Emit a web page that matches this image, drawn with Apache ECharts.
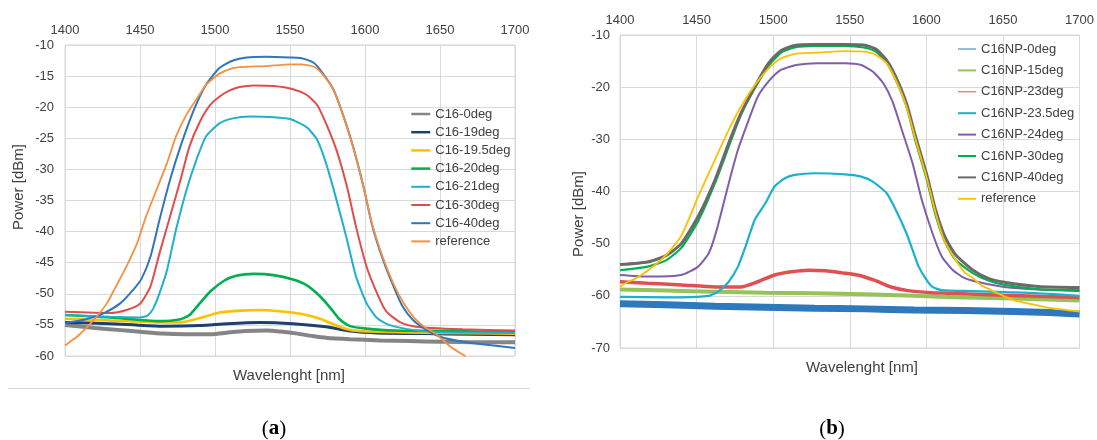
<!DOCTYPE html>
<html>
<head>
<meta charset="utf-8">
<script src="https://cdn.jsdelivr.net/npm/echarts@6/dist/echarts.min.js"></script>
<style>html,body{margin:0;padding:0;background:#fff}#c{width:1097px;height:440px}</style>
</head>
<body>
<div id="c"></div>
<script>
// ---------- axis ticks ----------
const xTicks = [1400, 1450, 1500, 1550, 1600, 1650, 1700];
const yTicksA = [-60, -55, -50, -45, -40, -35, -30, -25, -20, -15, -10];
const yTicksB = [-70, -60, -50, -40, -30, -20, -10];

// ---------- panel (a) : [wavelength nm, power dBm] ----------
const a_0deg = [[1400,-55.0],[1420,-55.5],[1435,-55.8],[1450,-56.1],[1465,-56.4],[1480,-56.5],[1497,-56.5],[1510,-56.2],[1520,-56.0],[1534,-55.9],[1545,-56.1],[1555,-56.4],[1565,-56.8],[1575,-57.1],[1590,-57.3],[1610,-57.5],[1630,-57.6],[1650,-57.7],[1675,-57.8],[1700,-57.8]];
const a_19deg = [[1400,-54.6],[1430,-54.8],[1463,-55.2],[1490,-55.1],[1508,-54.8],[1530,-54.6],[1552,-54.8],[1574,-55.3],[1590,-56.0],[1608,-56.3],[1640,-56.4],[1670,-56.5],[1700,-56.6]];
const a_19_5deg = [[1400,-54.0],[1430,-54.3],[1463,-54.6],[1477,-54.6],[1490,-53.9],[1503,-53.0],[1517,-52.7],[1530,-52.6],[1543,-52.8],[1557,-53.2],[1570,-54.0],[1583,-55.3],[1592,-55.9],[1608,-56.1],[1650,-56.3],[1700,-56.4]];
const a_20deg = [[1400,-53.4],[1430,-53.8],[1463,-54.4],[1477,-54.1],[1483,-53.4],[1490,-51.5],[1497,-49.6],[1506,-47.9],[1514,-47.1],[1526,-46.8],[1539,-47.0],[1552,-47.7],[1561,-48.6],[1570,-50.4],[1577,-52.3],[1583,-54.1],[1590,-55.2],[1601,-55.6],[1619,-55.9],[1663,-56.0],[1700,-56.2]];
const a_21deg = [[1400,-53.4],[1430,-53.7],[1450,-53.8],[1455,-53.5],[1459,-52.3],[1463,-49.9],[1468,-46.2],[1474,-39.7],[1481,-33.3],[1488,-28.2],[1494,-24.7],[1503,-22.6],[1512,-21.8],[1523,-21.5],[1539,-21.6],[1550,-21.9],[1561,-23.2],[1568,-25.2],[1574,-29.0],[1581,-34.9],[1588,-41.3],[1594,-47.2],[1601,-51.5],[1608,-53.9],[1616,-55.0],[1632,-55.8],[1654,-56.2],[1700,-56.3]];
const a_30deg = [[1400,-52.9],[1430,-53.1],[1441,-52.6],[1450,-51.6],[1457,-48.8],[1463,-43.5],[1470,-37.6],[1477,-31.7],[1483,-26.3],[1490,-22.3],[1497,-19.6],[1506,-17.8],[1514,-16.9],[1526,-16.5],[1539,-16.6],[1552,-17.1],[1561,-18.0],[1568,-19.6],[1574,-22.6],[1581,-26.9],[1588,-32.8],[1594,-39.2],[1601,-45.6],[1608,-49.9],[1614,-52.8],[1623,-54.5],[1632,-55.2],[1645,-55.5],[1665,-55.7],[1700,-55.9]];
const a_40deg = [[1400,-54.7],[1414,-54.1],[1426,-53.1],[1437,-51.5],[1446,-49.2],[1451,-47.6],[1457,-44.0],[1463,-38.1],[1470,-31.7],[1477,-26.3],[1486,-20.4],[1494,-16.4],[1503,-13.7],[1512,-12.5],[1521,-12.0],[1534,-11.9],[1550,-12.0],[1557,-12.1],[1566,-12.9],[1572,-14.6],[1579,-17.2],[1585,-21.0],[1592,-26.3],[1599,-32.8],[1605,-39.2],[1612,-44.5],[1619,-48.8],[1625,-52.0],[1632,-54.2],[1641,-55.8],[1650,-56.9],[1665,-57.7],[1681,-58.2],[1700,-58.7]];
const a_reference = [[1400,-58.3],[1404,-57.6],[1408,-56.9],[1414,-55.5],[1421,-53.7],[1428,-51.5],[1434,-48.8],[1441,-45.6],[1448,-41.9],[1454,-37.6],[1461,-33.3],[1468,-29.0],[1474,-24.7],[1481,-21.2],[1488,-18.6],[1494,-16.4],[1503,-14.6],[1512,-13.7],[1521,-13.5],[1534,-13.4],[1550,-13.1],[1557,-13.1],[1566,-13.5],[1572,-14.8],[1579,-17.2],[1585,-21.0],[1592,-26.3],[1599,-32.8],[1605,-39.0],[1612,-44.2],[1619,-48.4],[1626,-51.6],[1633,-53.9],[1640,-55.4],[1647,-56.4],[1656,-58.3],[1662,-59.3],[1667,-60.0]];

// ---------- panel (b) ----------
const b_0deg = [[1400,-61.5],[1430,-61.7],[1462,-62.0],[1495,-62.2],[1527,-62.4],[1560,-62.5],[1592,-62.7],[1625,-62.8],[1657,-63.0],[1680,-63.2],[1700,-63.5]];
const b_15deg = [[1400,-58.8],[1430,-59.0],[1462,-59.2],[1495,-59.4],[1527,-59.5],[1560,-59.7],[1592,-60.0],[1625,-60.3],[1658,-60.5],[1690,-60.8],[1700,-60.9]];
const b_23deg = [[1400,-57.3],[1418,-57.6],[1440,-57.9],[1462,-58.3],[1479,-58.3],[1490,-57.3],[1501,-56.0],[1512,-55.4],[1523,-55.1],[1534,-55.2],[1545,-55.6],[1555,-56.0],[1566,-57.0],[1577,-58.3],[1588,-59.0],[1603,-59.4],[1614,-59.5],[1650,-59.9],[1700,-60.3]];
const b_23_5deg = [[1400,-60.2],[1430,-60.3],[1458,-60.0],[1464,-59.2],[1471,-57.3],[1477,-54.4],[1482,-50.5],[1488,-45.4],[1495,-42.2],[1501,-39.0],[1508,-37.4],[1514,-36.8],[1527,-36.5],[1547,-36.7],[1557,-37.1],[1565,-38.1],[1574,-40.3],[1580,-43.5],[1587,-48.0],[1591,-51.2],[1595,-54.4],[1600,-56.9],[1604,-58.3],[1610,-58.9],[1630,-59.1],[1651,-59.3],[1673,-59.5],[1700,-60.0]];
const b_24deg = [[1400,-56.0],[1418,-56.3],[1440,-56.0],[1451,-54.4],[1458,-51.8],[1463,-47.5],[1471,-38.4],[1477,-32.0],[1484,-26.3],[1490,-21.8],[1497,-18.9],[1505,-16.7],[1516,-15.7],[1529,-15.4],[1547,-15.4],[1557,-15.7],[1565,-17.0],[1572,-19.3],[1578,-22.8],[1584,-28.2],[1591,-34.6],[1597,-41.6],[1604,-48.0],[1610,-52.4],[1617,-55.0],[1625,-56.6],[1636,-57.5],[1651,-58.3],[1673,-58.8],[1700,-59.1]];
const b_30deg = [[1400,-55.1],[1418,-54.4],[1430,-53.2],[1440,-50.8],[1451,-45.7],[1462,-38.4],[1471,-31.4],[1479,-25.3],[1488,-20.2],[1497,-15.9],[1505,-13.4],[1514,-12.4],[1527,-12.1],[1547,-12.1],[1559,-12.4],[1567,-13.2],[1574,-15.3],[1580,-18.6],[1587,-23.7],[1593,-30.4],[1600,-37.4],[1606,-44.5],[1612,-49.6],[1619,-53.1],[1630,-55.6],[1640,-57.0],[1651,-57.9],[1673,-58.7],[1700,-58.9]];
const b_40deg = [[1400,-54.0],[1418,-53.5],[1430,-52.3],[1440,-50.0],[1451,-44.8],[1462,-37.8],[1471,-30.7],[1479,-25.0],[1488,-19.9],[1497,-15.4],[1505,-13.0],[1514,-12.0],[1527,-11.8],[1547,-11.8],[1559,-11.9],[1567,-12.7],[1574,-14.8],[1580,-18.0],[1587,-23.1],[1593,-29.5],[1600,-36.5],[1606,-43.5],[1612,-48.6],[1619,-52.1],[1630,-55.0],[1640,-56.6],[1651,-57.4],[1673,-58.2],[1700,-58.4]];
const b_reference = [[1400,-58.3],[1404,-57.5],[1410,-56.7],[1418,-55.2],[1429,-52.5],[1440,-48.5],[1451,-41.0],[1462,-33.9],[1471,-28.2],[1479,-23.7],[1488,-19.6],[1497,-16.4],[1505,-14.5],[1514,-13.6],[1527,-13.4],[1547,-13.1],[1559,-13.2],[1567,-13.8],[1574,-15.4],[1580,-18.6],[1587,-23.7],[1593,-30.1],[1600,-37.1],[1606,-44.1],[1612,-49.6],[1619,-53.1],[1625,-55.5],[1630,-56.5],[1636,-58.0],[1651,-60.1],[1658,-60.9],[1672,-61.8],[1680,-62.3],[1700,-63.0]];

const namesA = ['C16-0deg','C16-19deg','C16-19.5deg','C16-20deg','C16-21deg','C16-30deg','C16-40deg','reference'];
const namesB = ['C16NP-0deg','C16NP-15deg','C16NP-23deg','C16NP-23.5deg','C16NP-24deg','C16NP-30deg','C16NP-40deg','reference '];
const dataA = [a_0deg, a_19deg, a_19_5deg, a_20deg, a_21deg, a_30deg, a_40deg, a_reference];
const dataB = [b_0deg, b_15deg, b_23deg, b_23_5deg, b_24deg, b_30deg, b_40deg, b_reference];

// ---------- styles ----------
const colorsA = ['#858585','#1f3f6e','#ffc000','#00b050','#1fb0cc','#e04d4d','#2f77bd','#f7903f'];
const widthsA = [4, 3, 2.6, 2.6, 2, 2, 2, 1.8];
const legendWA = [2.5, 2.5, 2.5, 2.5, 2, 2, 2, 2];
const colorsB = ['#2e78be','#95c35a','#e05050','#18b2cf','#7f5fa8','#00b050','#6a6a6a','#ffc000'];
const widthsB = [7, 4, 3.5, 2.2, 2, 2.2, 3, 1.8];
const legendWB = [1, 2, 1, 2, 2, 2, 2, 2];

const FONT = 'Liberation Sans, Arial, sans-serif';
const TXT = '#404040';

const series = [];
dataA.forEach((d, i) => series.push({
  name: namesA[i], type: 'line', xAxisIndex: 0, yAxisIndex: 0, data: d,
  symbol: 'none', smooth: 0.2, color: colorsA[i],
  lineStyle: { width: widthsA[i], color: colorsA[i] }, silent: true, animation: false
}));
dataB.forEach((d, i) => series.push({
  name: namesB[i], type: 'line', xAxisIndex: 1, yAxisIndex: 1, data: d,
  symbol: 'none', smooth: 0.2, color: colorsB[i],
  lineStyle: { width: widthsB[i], color: colorsB[i] }, silent: true, animation: false
}));

function xAx(gi) {
  return {
    type: 'value', gridIndex: gi, position: 'top', min: xTicks[0], max: xTicks[xTicks.length-1], interval: 50,
    axisLine: { show: false }, axisTick: { show: false },
    axisLabel: { margin: 8, color: TXT, fontSize: 13, fontFamily: FONT, formatter: v => String(v) },
    splitLine: { show: true, lineStyle: { color: '#d9d9d9', width: 1 } }
  };
}
function yAx(gi, ticks, interval, margin) {
  return {
    type: 'value', gridIndex: gi, min: ticks[0], max: ticks[ticks.length-1], interval: interval,
    axisLine: { show: false }, axisTick: { show: false },
    axisLabel: { margin: margin, color: TXT, fontSize: 13, fontFamily: FONT, formatter: v => String(v) },
    splitLine: { show: true, lineStyle: { color: '#d9d9d9', width: 1 } }
  };
}

const legendCommon = {
  orient: 'vertical', itemHeight: 14, selectedMode: false,
  itemStyle: { color: 'transparent', borderWidth: 0, opacity: 0 },
  textStyle: { color: TXT, fontSize: 13, fontFamily: FONT, lineHeight: 14 }
};

const chart = echarts.init(document.getElementById('c'), null, { renderer: 'canvas' });
chart.setOption({
  animation: false,
  backgroundColor: '#ffffff',
  grid: [
    { left: 65, top: 45, width: 450, height: 311, show: true, borderColor: '#d9d9d9', borderWidth: 1, containLabel: false },
    { left: 620, top: 35, width: 460, height: 313, show: true, borderColor: '#d9d9d9', borderWidth: 1, containLabel: false }
  ],
  xAxis: [xAx(0), xAx(1)],
  yAxis: [yAx(0, yTicksA, 5, 11), yAx(1, yTicksB, 10, 10)],
  legend: [
    Object.assign({}, legendCommon, {
      left: 405, top: 102, itemWidth: 19, itemGap: 4.2,
      data: namesA.map((n, i) => ({ name: n, lineStyle: { width: legendWA[i] } }))
    }),
    Object.assign({}, legendCommon, {
      left: 952, top: 37, itemWidth: 18, itemGap: 7.4,
      data: namesB.map((n, i) => ({ name: n, lineStyle: { width: legendWB[i] } }))
    })
  ],
  graphic: [
    { type: 'text', x: 19, y: 187, rotation: Math.PI / 2,
      style: { text: 'Power [dBm]', fill: TXT, font: '15px ' + FONT, align: 'center', verticalAlign: 'middle' } },
    { type: 'text', x: 289, y: 376,
      style: { text: 'Wavelenght [nm]', fill: TXT, font: '15px ' + FONT, align: 'center', verticalAlign: 'middle' } },
    { type: 'text', x: 579, y: 214, rotation: Math.PI / 2,
      style: { text: 'Power [dBm]', fill: TXT, font: '15px ' + FONT, align: 'center', verticalAlign: 'middle' } },
    { type: 'text', x: 862, y: 368,
      style: { text: 'Wavelenght [nm]', fill: TXT, font: '15px ' + FONT, align: 'center', verticalAlign: 'middle' } },
    { type: 'line', shape: { x1: 8, y1: 388.5, x2: 530, y2: 388.5 }, style: { stroke: '#d9d9d9', lineWidth: 1 } },
    { type: 'text', x: 274, y: 429,
      style: { text: '{p|(}{b|a}{p|)}', align: 'center', verticalAlign: 'middle',
        rich: { p: { fontFamily: 'Liberation Serif, serif', fontSize: 21, fill: '#000' },
                b: { fontFamily: 'Liberation Serif, serif', fontSize: 21, fontWeight: 'bold', fill: '#000' } } } },
    { type: 'text', x: 832, y: 429,
      style: { text: '{p|(}{b|b}{p|)}', align: 'center', verticalAlign: 'middle',
        rich: { p: { fontFamily: 'Liberation Serif, serif', fontSize: 21, fill: '#000' },
                b: { fontFamily: 'Liberation Serif, serif', fontSize: 21, fontWeight: 'bold', fill: '#000' } } } }
  ],
  series: series
});
</script>
</body>
</html>
